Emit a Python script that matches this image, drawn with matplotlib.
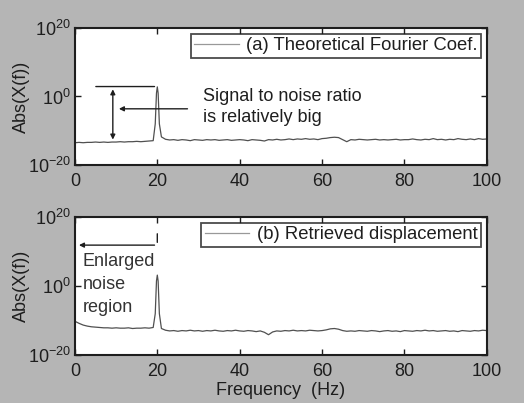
import numpy as np
import matplotlib
matplotlib.use("Agg")
import matplotlib.pyplot as plt

plt.rcParams['font.family'] = ['Liberation Sans', 'DejaVu Sans']
plt.rcParams['mathtext.default'] = 'regular'

# ---- data ----
freq_low = list(range(0, 20))
freq_peak = [19.5, 19.8, 20.0, 20.2, 20.5]
freq_high = list(range(21, 101))
freq = freq_low + freq_peak + freq_high

# log10 of |X(f)|, panel (a)
exp_a_low = [-13.5, -13.4, -13.5, -13.4, -13.4, -13.3, -13.4, -13.3, -13.4, -13.3,
             -13.3, -13.2, -13.3, -13.2, -13.2, -13.1, -13.2, -13.1, -13.0, -12.9]
exp_a_peak = [-8.0, 1.0, 2.8, 1.0, -8.0]
exp_a_high = [-11.8, -12.5, -12.7, -12.6, -12.8, -12.6, -12.7, -12.9, -12.6, -12.7,
              -12.8, -12.6, -12.7, -12.6, -12.8, -12.7, -12.6, -12.8, -12.7, -12.6,
              -12.7, -12.9, -12.6, -12.7, -12.8, -13.0, -12.6, -12.7, -12.5, -12.7,
              -12.6, -12.4, -12.6, -12.4, -12.5, -12.3, -12.5, -12.4, -12.6, -12.3,
              -12.2, -12.0, -11.9, -12.0, -12.6, -13.2, -12.6, -12.7, -12.5, -12.6,
              -12.7, -12.6, -12.5, -12.7, -12.6, -12.7, -12.6, -12.5, -12.7, -12.6,
              -12.6, -12.4, -12.6, -12.7, -12.5, -12.6, -12.3, -12.6, -12.5, -12.7,
              -12.5, -12.6, -12.3, -12.5, -12.6, -12.4, -12.6, -12.3, -12.5, -12.4]

# log10 of |X(f)|, panel (b)
exp_b_low = [-10.2, -10.8, -11.3, -11.6, -11.8, -11.9, -12.0, -12.1, -12.1, -12.2,
             -12.1, -12.2, -12.2, -12.1, -12.3, -12.2, -12.2, -12.1, -12.2, -12.0]
exp_b_peak = [-8.0, 1.5, 3.2, 1.5, -8.0]
exp_b_high = [-12.3, -12.8, -13.0, -12.9, -13.1, -12.9, -13.0, -12.8, -13.0, -12.9,
              -13.1, -12.9, -13.0, -12.8, -13.0, -13.1, -12.9, -13.0, -12.8, -13.0,
              -13.1, -12.9, -13.0, -13.2, -13.0, -13.4, -14.1, -13.3, -13.0, -13.1,
              -12.9, -13.0, -12.8, -13.0, -12.9, -13.0, -12.8, -12.9, -13.0, -12.9,
              -12.7, -12.4, -12.3, -12.5, -12.9, -13.1, -13.0, -13.1, -12.9, -13.0,
              -13.1, -12.9, -13.0, -13.2, -13.0, -12.9, -13.1, -13.0, -13.2, -12.9,
              -13.0, -13.1, -12.9, -13.0, -12.8, -13.0, -12.9, -13.1, -13.0, -12.9,
              -13.1, -13.0, -13.2, -12.9, -13.0, -13.1, -12.9, -13.0, -12.8, -12.9]

x_ticks = [0, 20, 40, 60, 80, 100]
y_ticks = [1e-20, 1e0, 1e20]
y_tick_labels = ['$10^{-20}$', '$10^{0}$', '$10^{20}$']
label_a = '(a) Theoretical Fourier Coef.'
label_b = '(b) Retrieved displacement'

amp_a = 10.0 ** np.array(exp_a_low + exp_a_peak + exp_a_high)
amp_b = 10.0 ** np.array(exp_b_low + exp_b_peak + exp_b_high)

# ---- figure ----
fig = plt.figure(figsize=(5.24, 4.03), dpi=100)
fig.patch.set_facecolor('#b5b5b5')

ax1 = fig.add_axes([0.143, 0.5906, 0.786, 0.340])
ax2 = fig.add_axes([0.143, 0.119, 0.786, 0.342])

line_color = '#505050'
ink = '#1e1e1e'
fs = 13

for ax, amp, lab in [(ax1, amp_a, label_a), (ax2, amp_b, label_b)]:
    ax.set_facecolor('white')
    ax.plot(freq, amp, color=line_color, lw=0.9, label=lab)
    ax.set_yscale('log')
    ax.set_xlim(0, 100)
    ax.set_ylim(1e-20, 1e20)
    ax.set_xticks(x_ticks)
    ax.set_xticklabels([str(t) for t in x_ticks], fontsize=fs, color=ink)
    ax.set_yticks(y_ticks)
    ax.set_yticklabels(y_tick_labels, fontsize=fs, color=ink)
    ax.minorticks_off()
    ax.tick_params(axis='x', pad=6)
    ax.tick_params(axis='y', pad=3)
    ax.tick_params(direction='in', top=True, right=True, length=4, width=1.0,
                   color=ink)
    for sp in ax.spines.values():
        sp.set_linewidth(1.5)
        sp.set_color(ink)
    ax.set_ylabel('Abs(X(f))', fontsize=fs, color=ink)
    ax.yaxis.set_label_coords(-0.108, 0.5)
    leg = ax.legend(loc='upper right', fontsize=13.3, frameon=True, fancybox=False,
                    edgecolor=ink, borderpad=0.2, handlelength=2.4,
                    handletextpad=0.4, borderaxespad=0.3)
    leg.get_frame().set_linewidth(1.3)
    leg.get_lines()[0].set_color('#999999')
    for t in leg.get_texts():
        t.set_color(ink)

ax2.set_xlabel('Frequency  (Hz)', fontsize=fs, labelpad=1, color=ink)

# ---- annotations panel (a) ----
arrow_kw = dict(arrowstyle='-|>', color=ink, lw=1.0, mutation_scale=7)
ax1.annotate('', xy=(4.4, 10**2.9), xytext=(20, 10**2.9),
             arrowprops=dict(arrowstyle='-', color=ink, lw=1.0))
ax1.annotate('', xy=(9.2, 10**2.9), xytext=(9.2, 10**-13.4),
             arrowprops=dict(arrowstyle='<|-|>', color=ink, lw=1.0, mutation_scale=7))
ax1.annotate('', xy=(10.0, 10**-3.6), xytext=(28.0, 10**-3.6), arrowprops=arrow_kw)
ax1.text(31.0, 10**-3.2, 'Signal to noise ratio\nis relatively big', fontsize=fs,
         va='center', ha='left', linespacing=1.3, color=ink)

# ---- annotations panel (b) ----
ax2.annotate('', xy=(0.3, 10**11.9), xytext=(20, 10**11.9),
             arrowprops=dict(arrowstyle='-|>', color=ink, lw=1.0, mutation_scale=7))
ax2.annotate('', xy=(20, 10**16.0), xytext=(20, 10**11.9),
             arrowprops=dict(arrowstyle='-', color=ink, lw=1.0))
ax2.text(1.8, 10**0.4, 'Enlarged\nnoise\nregion', fontsize=fs, va='center', ha='left',
         linespacing=1.45, color='#333333')

fig.savefig('out.png', dpi=100, facecolor=fig.get_facecolor())
